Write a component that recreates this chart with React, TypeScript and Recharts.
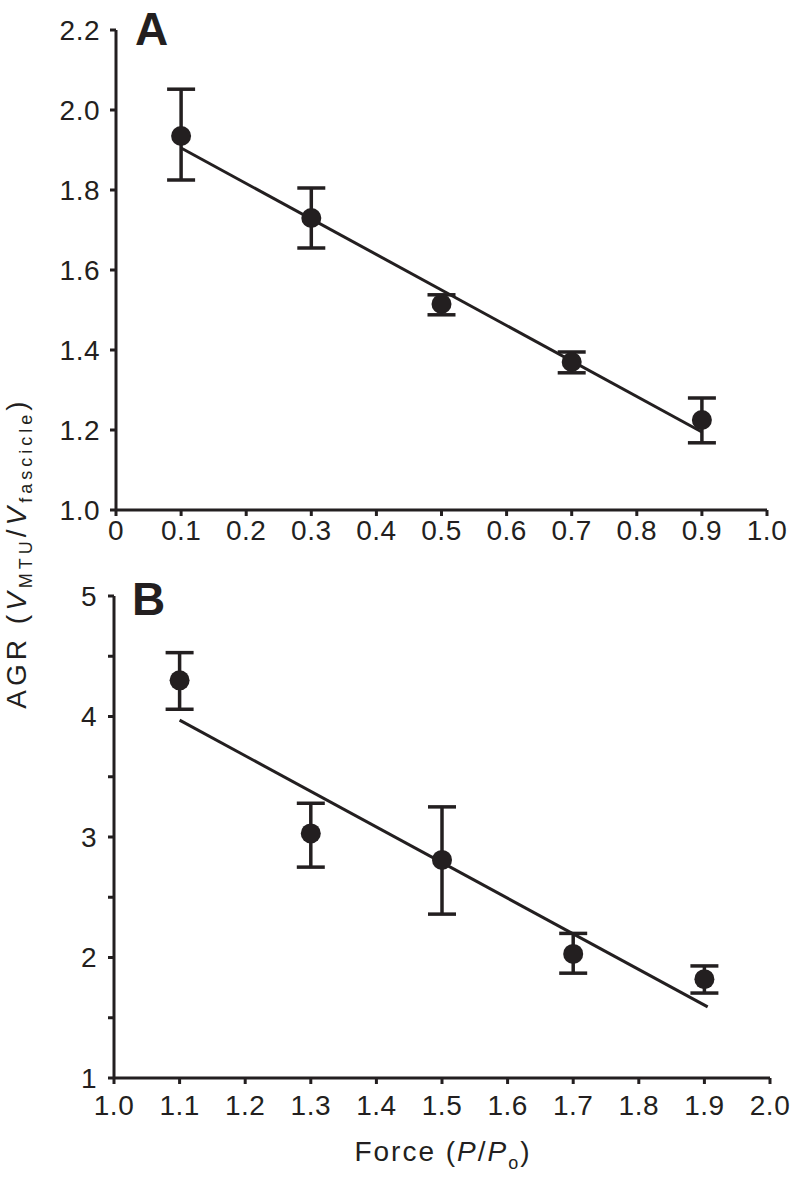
import React from 'react';
import { ScatterChart, Scatter, XAxis, YAxis, ErrorBar } from 'recharts';

// Panel A: force 0.1 - 0.9 P/Po
const forceA = [0.1, 0.3, 0.5, 0.7, 0.9];
const agrA = [1.935, 1.73, 1.515, 1.37, 1.225];
const agrAUpper = [2.052, 1.805, 1.538, 1.395, 1.28];
const agrALower = [1.825, 1.655, 1.488, 1.343, 1.168];
const fitAX = [0.1, 0.9];
const fitAY = [1.905, 1.195];
const xTicksA = [0, 0.1, 0.2, 0.3, 0.4, 0.5, 0.6, 0.7, 0.8, 0.9, 1.0];
const yTicksA = [1.0, 1.2, 1.4, 1.6, 1.8, 2.0, 2.2];

// Panel B: force 1.1 - 1.9 P/Po
const forceB = [1.1, 1.3, 1.5, 1.7, 1.9];
const agrB = [4.3, 3.03, 2.81, 2.03, 1.82];
const agrBUpper = [4.53, 3.28, 3.25, 2.2, 1.93];
const agrBLower = [4.06, 2.75, 2.36, 1.87, 1.705];
const fitBX = [1.1, 1.905];
const fitBY = [3.97, 1.59];
const xTicksB = [1.0, 1.1, 1.2, 1.3, 1.4, 1.5, 1.6, 1.7, 1.8, 1.9, 2.0];
const yTicksB = [1, 1.5, 2, 2.5, 3, 3.5, 4, 4.5, 5];

const INK = '#231f20';
const FONT = '"Liberation Sans", Arial, sans-serif';

const toPoints = (xs: number[], ys: number[], hi: number[], lo: number[]) =>
  xs.map((x, i) => ({ x, y: ys[i], err: [ys[i] - lo[i], hi[i] - ys[i]] }));
const toLine = (xs: number[], ys: number[]) => xs.map((x, i) => ({ x, y: ys[i] }));

const tickStyle = { fill: INK, fontSize: 28, fontFamily: FONT, letterSpacing: 0.5 };
const axisStroke = { stroke: INK, strokeWidth: 3 };

const Dot = (props: any) => <circle cx={props.cx} cy={props.cy} r={10} fill={INK} />;
const NoShape = () => <g />;

const App: React.FC = () => {
  const ptsA = toPoints(forceA, agrA, agrAUpper, agrALower);
  const ptsB = toPoints(forceB, agrB, agrBUpper, agrBLower);

  return (
    <div style={{ position: 'absolute', left: 0, top: 0, width: 792, height: 1180, background: '#fff' }}>
      <div style={{ position: 'absolute', left: 0, top: 0 }}>
        <ScatterChart width={792} height={560} margin={{ top: 30, right: 25, bottom: 10, left: 56 }}>
          <XAxis
            type="number"
            dataKey="x"
            domain={[0, 1]}
            ticks={xTicksA}
            tickFormatter={(v: number) => (v === 0 ? '0' : v.toFixed(1))}
            tick={tickStyle}
            axisLine={axisStroke}
            tickLine={axisStroke}
            tickSize={6}
            tickMargin={4}
            height={40}
            interval={0}
          />
          <YAxis
            type="number"
            dataKey="y"
            domain={[1.0, 2.2]}
            ticks={yTicksA}
            tickFormatter={(v: number) => v.toFixed(1)}
            tick={tickStyle}
            axisLine={axisStroke}
            tickLine={axisStroke}
            tickSize={6}
            tickMargin={10}
            width={60}
            interval={0}
          />
          <Scatter data={toLine(fitAX, fitAY)} line={{ stroke: INK, strokeWidth: 3 }} shape={NoShape} isAnimationActive={false} />
          <Scatter data={ptsA} shape={Dot} isAnimationActive={false}>
            <ErrorBar dataKey="err" direction="y" width={14} strokeWidth={3.5} stroke={INK} />
          </Scatter>
        </ScatterChart>
      </div>
      <div style={{ position: 'absolute', left: 0, top: 560 }}>
        <ScatterChart width={792} height={620} margin={{ top: 36, right: 22, bottom: 12, left: 54 }}>
          <XAxis
            type="number"
            dataKey="x"
            domain={[1, 2]}
            ticks={xTicksB}
            tickFormatter={(v: number) => v.toFixed(1)}
            tick={tickStyle}
            axisLine={axisStroke}
            tickLine={axisStroke}
            tickSize={6}
            tickMargin={11}
            height={90}
            interval={0}
          />
          <YAxis
            type="number"
            dataKey="y"
            domain={[1, 5]}
            ticks={yTicksB}
            tickFormatter={(v: number) => (Number.isInteger(v) ? String(v) : '')}
            tick={tickStyle}
            axisLine={axisStroke}
            tickLine={axisStroke}
            tickSize={6}
            tickMargin={11}
            width={60}
            interval={0}
          />
          <Scatter data={toLine(fitBX, fitBY)} line={{ stroke: INK, strokeWidth: 3 }} shape={NoShape} isAnimationActive={false} />
          <Scatter data={ptsB} shape={Dot} isAnimationActive={false}>
            <ErrorBar dataKey="err" direction="y" width={14} strokeWidth={3.5} stroke={INK} />
          </Scatter>
        </ScatterChart>
      </div>
      <svg width={792} height={1180} style={{ position: 'absolute', left: 0, top: 0, pointerEvents: 'none' }}>
        <g fontFamily={FONT} fill={INK}>
          <text x={135} y={45} fontSize={46} fontWeight="bold">A</text>
          <text x={132} y={615} fontSize={46} fontWeight="bold">B</text>
          <text x={26} y={553} fontSize={28} letterSpacing={4} textAnchor="middle" transform="rotate(-90 26 553)">
            AGR (<tspan fontStyle="italic">V</tspan>
            <tspan fontSize={18} dy={6}>MTU</tspan>
            <tspan dy={-6}>/</tspan>
            <tspan fontStyle="italic">V</tspan>
            <tspan fontSize={18} dy={6}>fascicle</tspan>
            <tspan dy={-6}>)</tspan>
          </text>
          <text x={443} y={1161} fontSize={28} letterSpacing={2} textAnchor="middle">
            Force (<tspan fontStyle="italic">P</tspan>/<tspan fontStyle="italic">P</tspan>
            <tspan fontSize={18} dy={8}>o</tspan>
            <tspan dy={-8}>)</tspan>
          </text>
        </g>
      </svg>
    </div>
  );
};

export default App;
